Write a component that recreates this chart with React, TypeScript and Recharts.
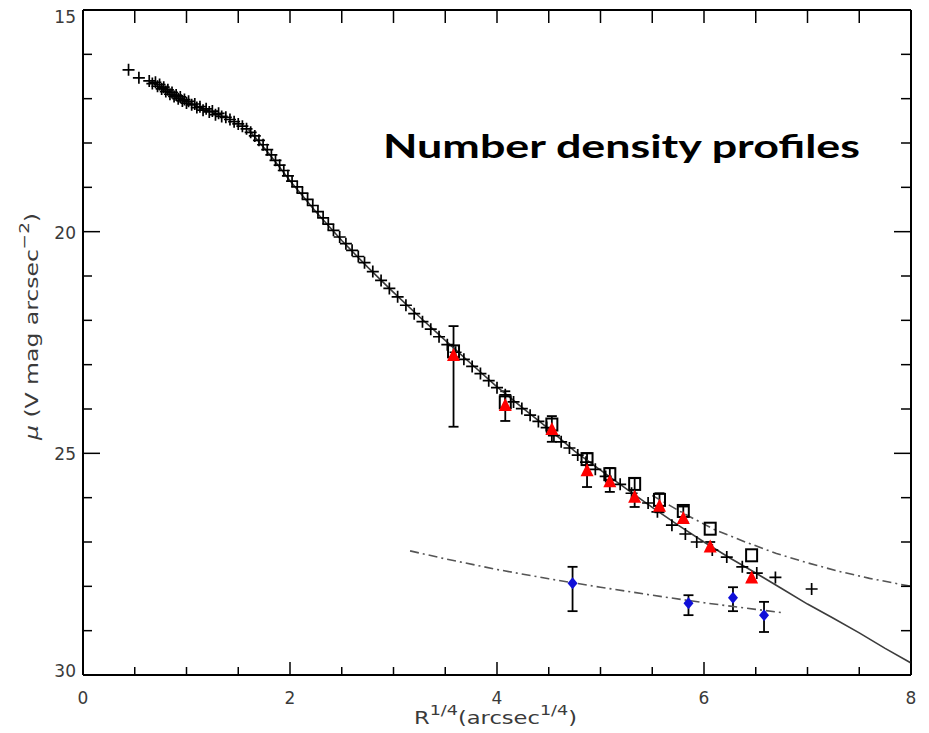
import { ScatterChart, Scatter, XAxis, YAxis, ErrorBar } from 'recharts';

// + symbols: main surface brightness profile
const plusX = [
  0.44, 0.54, 0.64, 0.67, 0.7, 0.72, 0.74, 0.76, 0.78, 0.8, 0.82, 0.84, 0.86, 0.88, 0.9, 0.92, 0.94,
  0.96, 0.98, 1.0, 1.02, 1.05, 1.08, 1.1, 1.13, 1.16, 1.19, 1.22, 1.25, 1.28, 1.31, 1.34, 1.38, 1.42,
  1.46, 1.5, 1.54, 1.58, 1.62, 1.66, 1.7, 1.74, 1.78, 1.82, 1.86, 1.9, 1.94, 1.98, 2.02, 2.07, 2.12,
  2.17, 2.22, 2.27, 2.32, 2.37, 2.42, 2.48, 2.54, 2.6, 2.66, 2.72, 2.8, 2.88, 2.96, 3.04, 3.12, 3.2,
  3.28, 3.36, 3.44, 3.52, 3.6, 3.68, 3.76, 3.84, 3.92, 4.0, 4.08, 4.16, 4.24, 4.32, 4.4, 4.48, 4.55,
  4.62, 4.7, 4.78, 4.86, 4.95, 5.05, 5.19, 5.3, 5.46, 5.55, 5.69, 5.82, 5.93, 6.08, 6.22, 6.37, 6.51,
  6.69, 7.04,
];
const plusY = [
  16.35, 16.53, 16.6, 16.66, 16.63, 16.72, 16.68, 16.78, 16.74, 16.84, 16.8, 16.9, 16.86, 16.95, 16.92,
  17.0, 16.96, 17.05, 17.02, 17.1, 17.06, 17.14, 17.12, 17.2, 17.18, 17.26, 17.23, 17.3, 17.28, 17.36,
  17.33, 17.4, 17.42, 17.47, 17.52, 17.57, 17.62, 17.68, 17.76, 17.84, 17.94, 18.04, 18.15, 18.27,
  18.39, 18.5, 18.62, 18.74, 18.86, 18.99, 19.13, 19.27, 19.41, 19.55, 19.69, 19.83, 19.97, 20.12,
  20.27, 20.42, 20.56, 20.7, 20.9, 21.1, 21.28, 21.47, 21.66, 21.85, 22.03, 22.2, 22.37, 22.55, 22.72,
  22.88, 23.04, 23.2, 23.36, 23.52, 23.68, 23.84, 23.99, 24.14, 24.28, 24.42, 24.6, 24.74, 24.88,
  25.04, 25.2, 25.36, 25.52, 25.7, 25.9, 26.12, 26.32, 26.62, 26.82, 27.0, 27.18, 27.34, 27.56, 27.7,
  27.8, 28.06,
];

// open squares
const squareX = [3.58, 4.08, 4.53, 4.87, 5.09, 5.33, 5.57, 5.8, 6.06, 6.46];
const squareY = [22.7, 23.85, 24.35, 25.13, 25.47, 25.69, 26.05, 26.3, 26.7, 27.3];

// red triangles with error bars
const triX = [3.58, 4.08, 4.53, 4.87, 5.09, 5.33, 5.57, 5.8, 6.06, 6.46];
const triY = [22.78, 23.91, 24.45, 25.38, 25.63, 25.98, 26.18, 26.46, 27.1, 27.8];
const triErrLow = [0.65, 0.31, 0.29, 0.38, 0.3, 0.42, 0.28, 0.26, 0.1, 0.1];
const triErrHigh = [1.62, 0.36, 0.29, 0.38, 0.24, 0.23, 0.15, 0.09, 0.1, 0.1];

// blue diamonds with error bars
const diaX = [4.73, 5.85, 6.28, 6.58];
const diaY = [27.93, 28.38, 28.26, 28.65];
const diaErrLow = [0.37, 0.18, 0.24, 0.3];
const diaErrHigh = [0.63, 0.27, 0.3, 0.38];

// solid model curve
const modelX = [1.6, 1.8, 2.0, 2.25, 2.5, 2.75, 3.0, 3.25, 3.5, 3.75, 4.0, 4.25, 4.5, 4.75, 5.0, 5.25, 5.5, 5.75, 6.0, 6.25, 6.5, 6.75, 7.0, 7.25, 7.5, 7.75, 8.0];
const modelY = [17.7, 18.25, 18.85, 19.55, 20.2, 20.8, 21.37, 21.92, 22.45, 22.98, 23.5, 23.98, 24.45, 24.95, 25.38, 25.8, 26.22, 26.62, 27.0, 27.36, 27.7, 28.05, 28.4, 28.72, 29.05, 29.4, 29.73];

// dash-dot fits
const upperFitX = [5.5, 5.8, 6.1, 6.4, 6.7, 7.0, 7.3, 7.6, 8.0];
const upperFitY = [25.95, 26.35, 26.72, 27.0, 27.26, 27.47, 27.66, 27.82, 28.0];
const lowerFitX = [3.16, 3.5, 4.0, 4.5, 5.0, 5.5, 6.0, 6.5, 6.78];
const lowerFitY = [27.2, 27.38, 27.62, 27.83, 28.02, 28.2, 28.37, 28.52, 28.6];

const xTicks = [0, 0.5, 1, 1.5, 2, 2.5, 3, 3.5, 4, 4.5, 5, 5.5, 6, 6.5, 7, 7.5, 8];
const xLabels = [0, 2, 4, 6, 8];
const yTicks = [15, 16, 17, 18, 19, 20, 21, 22, 23, 24, 25, 26, 27, 28, 29, 30];
const yLabels = [15, 20, 25, 30];

const zip = (xs: number[], ys: number[]) => xs.map((x, i) => ({ x, y: ys[i] }));
const zipErr = (xs: number[], ys: number[], lo: number[], hi: number[]) =>
  xs.map((x, i) => ({ x, y: ys[i], err: [lo[i], hi[i]] }));

const LABEL_FONT = '"DejaVu Sans", "Liberation Sans", sans-serif';
const LABEL_COLOR = '#3a3a3a';

const Plus = ({ cx, cy }: any) => (
  <path d={`M${cx - 6},${cy}H${cx + 6}M${cx},${cy - 6}V${cy + 6}`} stroke="#000" strokeWidth={1.7} fill="none" />
);
const Square = ({ cx, cy }: any) => (
  <rect x={cx - 5.5} y={cy - 6} width={11} height={12} stroke="#000" strokeWidth={2} fill="none" />
);
const Triangle = ({ cx, cy }: any) => (
  <path d={`M${cx},${cy - 7}L${cx + 6.5},${cy + 6}L${cx - 6.5},${cy + 6}Z`} fill="#ff0000" />
);
const Diamond = ({ cx, cy }: any) => (
  <path d={`M${cx},${cy - 6}L${cx + 5},${cy}L${cx},${cy + 6}L${cx - 5},${cy}Z`} fill="#1010d8" />
);
const NoDot = () => <g />;

const BottomTick = ({ x, y, payload }: any) => {
  const major = xLabels.includes(payload.value);
  return (
    <g>
      <line x1={x} y1={y} x2={x} y2={y - (major ? 13 : 8)} stroke="#000" strokeWidth={1.5} />
      {major && (
        <text x={x} y={y + 29} textAnchor="middle" fontSize={17} fill={LABEL_COLOR} fontFamily={LABEL_FONT}>
          {payload.value}
        </text>
      )}
    </g>
  );
};
const TopTick = ({ x, y }: any) => (
  <line x1={x} y1={y} x2={x} y2={y + 13} stroke="#000" strokeWidth={1.5} />
);
const LeftTick = ({ x, y, payload }: any) => {
  const major = yLabels.includes(payload.value);
  const shift = payload.value === 15 ? 7 : payload.value === 30 ? -4 : 1;
  return (
    <g>
      <line x1={x} y1={y} x2={x + (major ? 17 : 9)} y2={y} stroke="#000" strokeWidth={1.5} />
      {major && (
        <text x={x - 7} y={y + shift + 6} textAnchor="end" fontSize={17} fill={LABEL_COLOR} fontFamily={LABEL_FONT}>
          {payload.value}
        </text>
      )}
    </g>
  );
};
const RightTick = ({ x, y, payload }: any) => {
  const major = yLabels.includes(payload.value);
  return <line x1={x} y1={y} x2={x - (major ? 17 : 10)} y2={y} stroke="#000" strokeWidth={1.5} />;
};

export default function App() {
  return (
    <div style={{ position: 'absolute', left: 0, top: 0, width: 929, height: 733, background: '#fff' }}>
      <ScatterChart width={929} height={733} margin={{ top: 9, right: 17, bottom: 57, left: 82 }}>
        <XAxis
          type="number"
          dataKey="x"
          domain={[0, 8]}
          ticks={xTicks}
          interval={0}
          height={1}
          tickSize={0}
          tickMargin={0}
          tickLine={false}
          axisLine={{ stroke: '#000', strokeWidth: 2 }}
          tick={(p: any) => <BottomTick {...p} />}
          allowDataOverflow
        />
        <XAxis
          xAxisId="top"
          orientation="top"
          type="number"
          dataKey="x"
          domain={[0, 8]}
          ticks={xTicks}
          interval={0}
          height={1}
          tickSize={0}
          tickMargin={0}
          tickLine={false}
          axisLine={{ stroke: '#000', strokeWidth: 2 }}
          tick={(p: any) => <TopTick {...p} />}
          allowDataOverflow
        />
        <YAxis
          type="number"
          dataKey="y"
          domain={[15, 30]}
          reversed
          ticks={yTicks}
          interval={0}
          width={1}
          tickSize={0}
          tickMargin={0}
          tickLine={false}
          axisLine={{ stroke: '#000', strokeWidth: 2 }}
          tick={(p: any) => <LeftTick {...p} />}
          allowDataOverflow
        />
        <YAxis
          yAxisId="right"
          orientation="right"
          type="number"
          dataKey="y"
          domain={[15, 30]}
          reversed
          ticks={yTicks}
          interval={0}
          width={1}
          tickSize={0}
          tickMargin={0}
          tickLine={false}
          axisLine={{ stroke: '#000', strokeWidth: 2 }}
          tick={(p: any) => <RightTick {...p} />}
          allowDataOverflow
        />

        <Scatter
          data={zip(modelX, modelY)}
          shape={NoDot}
          line={{ stroke: '#3c3c3c', strokeWidth: 1.6 }}
          isAnimationActive={false}
        />
        <Scatter
          data={zip(upperFitX, upperFitY)}
          shape={NoDot}
          line={{ stroke: '#555', strokeWidth: 1.6, strokeDasharray: '9 4 2 4' }}
          isAnimationActive={false}
        />
        <Scatter
          data={zip(lowerFitX, lowerFitY)}
          shape={NoDot}
          line={{ stroke: '#555', strokeWidth: 1.6, strokeDasharray: '9 4 2 4' }}
          isAnimationActive={false}
        />
        <Scatter data={zip(plusX, plusY)} shape={Plus} isAnimationActive={false} />
        <Scatter data={zip(squareX, squareY)} shape={Square} isAnimationActive={false} />
        <Scatter data={zipErr(triX, triY, triErrLow, triErrHigh)} shape={Triangle} isAnimationActive={false}>
          <ErrorBar dataKey="err" direction="y" width={5} stroke="#000" strokeWidth={1.8} />
        </Scatter>
        <Scatter data={zipErr(diaX, diaY, diaErrLow, diaErrHigh)} shape={Diamond} isAnimationActive={false}>
          <ErrorBar dataKey="err" direction="y" width={5} stroke="#000" strokeWidth={1.8} />
        </Scatter>
      </ScatterChart>

      <svg width={929} height={733} style={{ position: 'absolute', left: 0, top: 0, pointerEvents: 'none' }}>
        <text
          x={383}
          y={158}
          fontSize={32}
          fontWeight="bold"
          fontFamily='Lato, "Open Sans", sans-serif'
          textLength={477}
          lengthAdjust="spacingAndGlyphs"
          fill="#000"
        >
          Number density profiles
        </text>
        <text
          x={414}
          y={724}
          fontSize={18}
          fill={LABEL_COLOR}
          fontFamily={LABEL_FONT}
          textLength={163}
          lengthAdjust="spacingAndGlyphs"
        >
          R<tspan fontSize={14} dy={-9}>1/4</tspan>
          <tspan dy={9}>(arcsec</tspan>
          <tspan fontSize={14} dy={-9}>1/4</tspan>
          <tspan dy={9}>)</tspan>
        </text>
        <text
          transform="translate(38,440) rotate(-90)"
          fontSize={18}
          fill={LABEL_COLOR}
          fontFamily={LABEL_FONT}
          textLength={227}
          lengthAdjust="spacingAndGlyphs"
        >
          <tspan fontStyle="italic">μ</tspan> (V mag arcsec
          <tspan fontSize={14} dy={-9}>−2</tspan>
          <tspan dy={9}>)</tspan>
        </text>
      </svg>
    </div>
  );
}
